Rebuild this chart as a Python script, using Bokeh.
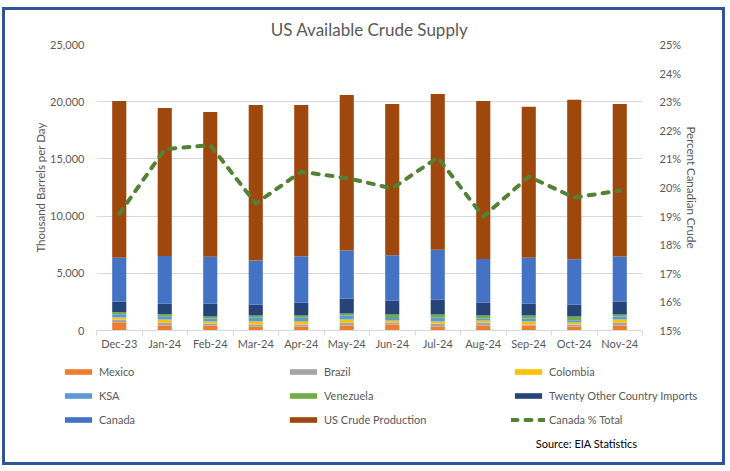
from bokeh.plotting import figure
from bokeh.layouts import column
from bokeh.models import (ColumnDataSource, Range1d, LinearAxis, FixedTicker,
                          NumeralTickFormatter, PrintfTickFormatter, Legend,
                          LegendItem, Label)
from bokeh.embed import file_html
from bokeh.resources import INLINE

# Monthly US crude supply, thousand barrels per day
months = ["Dec-23", "Jan-24", "Feb-24", "Mar-24", "Apr-24", "May-24",
          "Jun-24", "Jul-24", "Aug-24", "Sep-24", "Oct-24", "Nov-24"]
mexico = [730, 440, 440, 350, 350, 440, 520, 350, 440, 440, 350, 440]
brazil = [230, 260, 175, 175, 175, 260, 175, 260, 260, 90, 175, 260]
colombia = [175, 260, 175, 260, 260, 260, 175, 175, 175, 260, 175, 260]
ksa = [290, 290, 260, 320, 320, 350, 230, 320, 175, 260, 205, 260]
venezuela = [175, 175, 175, 205, 205, 175, 290, 290, 260, 260, 320, 175]
other_twenty = [930, 930, 1130, 960, 1130, 1310, 1220, 1310, 1130, 1050, 1050, 1130]
canada = [3840, 4150, 4100, 3840, 4050, 4190, 3960, 4360, 3820, 3990, 3960, 3940]
us_production = [13700, 12955, 12655, 13610, 13230, 13605, 13230, 13615,
                 13810, 13200, 13925, 13335]
# Canada share of total supply, percent
canada_pct = [19.07, 21.34, 21.48, 19.44, 20.55, 20.33, 19.97, 21.05,
              18.98, 20.38, 19.65, 19.89]

series = ["mexico", "brazil", "colombia", "ksa", "venezuela", "other_twenty",
          "canada", "us_production"]
labels = ["Mexico", "Brazil", "Colombia", "KSA", "Venezuela",
          "Twenty Other Country Imports", "Canada", "US Crude Production"]
colors = ["#ED7D31", "#A5A5A5", "#FFC000", "#5B9BD5", "#70AD47",
          "#264478", "#4472C4", "#9E480E"]
LINE_COLOR = "#548235"
LINE_DASH = "6 8"

idx = list(range(len(months)))
source = ColumnDataSource(dict(
    x=idx, mexico=mexico, brazil=brazil, colombia=colombia, ksa=ksa,
    venezuela=venezuela, other_twenty=other_twenty, canada=canada,
    us_production=us_production, canada_pct=canada_pct))

FONT = "Lato"
GREY = "#595959"
GRID = "#D9D9D9"
FRAME = "3px solid #2F5597"

# ---- chart panel (upper part of the framed box) ----
p = figure(width=723, height=344, output_backend="svg", toolbar_location=None,
           x_range=Range1d(-0.5, 11.5), y_range=Range1d(0, 25000),
           min_border_left=91, min_border_right=86, min_border_top=34,
           min_border_bottom=24, y_axis_location=None,
           margin=(7, 0, 0, 2), frame_align=False,
           styles={"border-top": FRAME, "border-left": FRAME,
                   "border-right": FRAME},
           title="US Available Crude Supply")
p.outline_line_color = None
p.background_fill_color = "white"
p.border_fill_color = "white"

p.title.align = "center"
p.title.text_font = FONT
p.title.text_font_size = "17px"
p.title.text_font_style = "normal"
p.title.text_color = GREY
p.title.standoff = 9

p.extra_y_ranges = {"pct": Range1d(15, 25)}

# stacked supply bars
bars = p.vbar_stack(series, x="x", width=0.31, color=colors, line_color=None,
                    source=source)

# Canada share line on the secondary axis
p.line("x", "canada_pct", source=source, y_range_name="pct",
       line_color=LINE_COLOR, line_width=4, line_dash=LINE_DASH,
       line_cap="round", line_join="round")

# left axis
left_ticks = FixedTicker(ticks=[0, 5000, 10000, 15000, 20000, 25000])
left = LinearAxis(ticker=left_ticks, formatter=NumeralTickFormatter(format="0,0"),
                  axis_label="Thousand Barrels per Day")
p.add_layout(left, "left")

# right axis
right = LinearAxis(y_range_name="pct",
                   ticker=FixedTicker(ticks=list(range(15, 26))),
                   formatter=PrintfTickFormatter(format="%d%%"),
                   axis_label="Percent Canadian Crude")
p.add_layout(right, "right")

for ax, std, lstd in ((left, 12, 0), (right, 17, 1)):
    ax.axis_line_color = None
    ax.major_tick_line_color = None
    ax.major_tick_out = 0
    ax.major_tick_in = 0
    ax.minor_tick_line_color = None
    ax.major_label_text_font = FONT
    ax.major_label_text_font_size = "11px"
    ax.major_label_text_color = GREY
    ax.major_label_standoff = std
    ax.axis_label_text_font = FONT
    ax.axis_label_text_font_size = "11.5px"
    ax.axis_label_text_font_style = "normal"
    ax.axis_label_text_color = GREY
    ax.axis_label_standoff = lstd

# category axis: labels at centres, tick marks between categories
xa = p.xaxis[0]
xa.ticker = FixedTicker(ticks=idx, minor_ticks=[i - 0.5 for i in range(13)])
xa.major_label_overrides = {i: m for i, m in zip(idx, months)}
xa.major_tick_line_color = None
xa.major_tick_out = 0
xa.major_tick_in = 0
xa.minor_tick_line_color = GRID
xa.minor_tick_in = 0
xa.minor_tick_out = 5
xa.axis_line_color = GRID
xa.major_label_text_font = FONT
xa.major_label_text_font_size = "11px"
xa.major_label_text_color = GREY
xa.major_label_standoff = 1

p.xgrid.grid_line_color = None
p.ygrid.ticker = left_ticks
p.ygrid.grid_line_color = GRID

# ---- legend panel (lower part of the framed box) ----
q = figure(width=723, height=114, output_backend="svg", toolbar_location=None,
           x_range=Range1d(0, 1), y_range=Range1d(0, 1),
           min_border=0, x_axis_location=None, y_axis_location=None,
           margin=(0, 0, 0, 2), frame_align=False,
           styles={"border-bottom": FRAME, "border-left": FRAME,
                   "border-right": FRAME})
q.outline_line_color = None
q.grid.visible = False
q.background_fill_color = "white"
q.border_fill_color = "white"

# legend keys: hidden copies of each series carrying its style
keys = [q.vbar(x="x", top=s, width=0.31, color=c, line_color=None,
               source=source, visible=False) for s, c in zip(series, colors)]
keys.append(q.line(x="x", y="canada_pct", source=source, line_color=LINE_COLOR,
                   line_width=4, line_dash=LINE_DASH, line_cap="round",
                   visible=False))

entries = [LegendItem(label=l, renderers=[r])
           for l, r in zip(labels + ["Canada % Total"], keys)]
for row, yoff in enumerate((87, 63, 39)):
    leg = Legend(items=entries[row * 3:(row + 1) * 3], orientation="horizontal",
                 location=(56, yoff), padding=0, margin=0, spacing=2,
                 glyph_width=34, glyph_height=7, label_height=14,
                 label_width=185, label_standoff=4,
                 label_text_font=FONT, label_text_font_size="11px",
                 label_text_color=GREY, border_line_color=None,
                 background_fill_alpha=0)
    q.add_layout(leg, "center")

q.add_layout(Label(x=632, y=22, x_units="screen", y_units="screen",
                   text="Source: EIA Statistics", text_align="right",
                   text_baseline="middle", text_font=FONT,
                   text_font_size="11px", text_color="#000000"))

open("out.html", "w").write(file_html(column(p, q, spacing=0), INLINE))
